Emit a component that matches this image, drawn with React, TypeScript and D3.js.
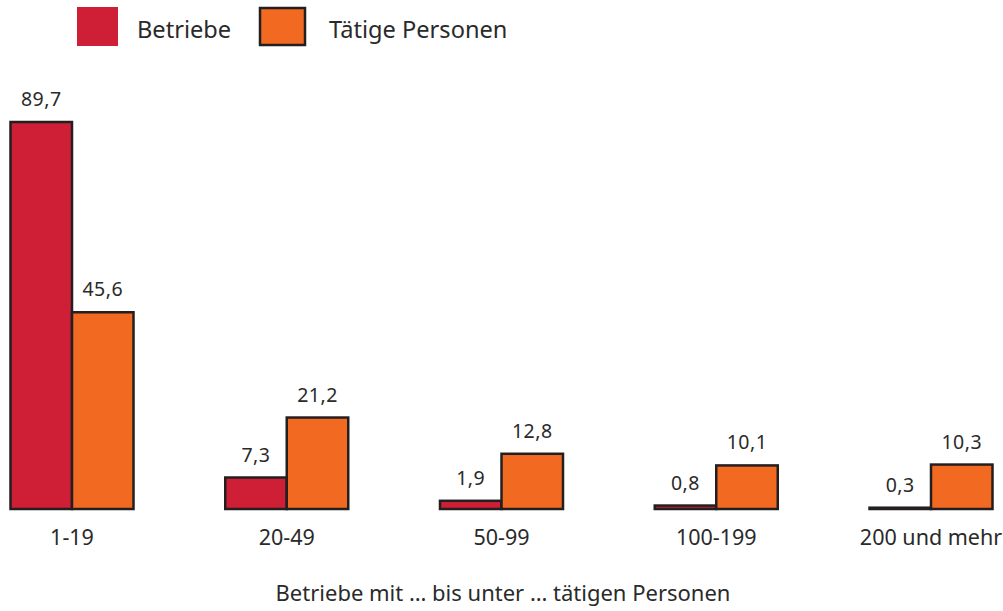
import React from "react";
import * as d3 from "d3";

const categories = ["1-19", "20-49", "50-99", "100-199", "200 und mehr"];
const seriesNames = ["Betriebe", "Tätige Personen"];
const betriebe = [89.7, 7.3, 1.9, 0.8, 0.3];
const taetige = [45.6, 21.2, 12.8, 10.1, 10.3];
const axisTitle = "Betriebe mit … bis unter … tätigen Personen";

const W = 1003;
const H = 611;
const FONT = "'Noto Sans', 'Open Sans', sans-serif";
const COLORS = ["#CF1F37", "#F26A22"];
const STROKE = "#231F20";

export default function App() {
  const step = 214.75;
  const firstCenter = 72;
  const x0 = d3
    .scaleBand<string>()
    .domain(categories)
    .range([firstCenter - step / 2, firstCenter - step / 2 + step * categories.length])
    .padding(0);
  const bw = x0.bandwidth();
  const barW = 61.5;
  const x1 = d3
    .scaleBand<string>()
    .domain(seriesNames)
    .range([bw / 2 - barW, bw / 2 + barW])
    .padding(0);
  const y = d3.scaleLinear().domain([0, 89.7]).range([509, 122]);
  const fmt = (v: number) => d3.format(".1f")(v).replace(".", ",");
  const series = [betriebe, taetige];

  return (
    <svg
      width={W}
      height={H}
      style={{ position: "absolute", left: 0, top: 0, background: "#fff" }}
      fontFamily={FONT}
    >
      {/* legend */}
      <rect x={77} y={7} width={41} height={39} fill={COLORS[0]} />
      <text x={137} y={38} fontSize={23.6} fill="#2a2a2a">
        {seriesNames[0]}
      </text>
      <rect x={260} y={8} width={45} height={37} fill={COLORS[1]} stroke={STROKE} strokeWidth={2.5} />
      <text x={329} y={38} fontSize={23.6} fill="#2a2a2a">
        {seriesNames[1]}
      </text>

      {categories.map((c, i) => (
        <g key={c}>
          {series.map((vals, s) => {
            const v = vals[i];
            const bx = (x0(c) as number) + (x1(seriesNames[s]) as number);
            const top = y(v);
            return (
              <g key={s}>
                <rect
                  x={bx}
                  y={top}
                  width={x1.bandwidth()}
                  height={y(0) - top}
                  fill={COLORS[s]}
                  stroke={STROKE}
                  strokeWidth={2.5}
                />
                <text
                  x={bx + x1.bandwidth() / 2}
                  y={top - 16}
                  textAnchor="middle"
                  fontSize={19.5}
                  letterSpacing={0.5}
                  fill="#2a2a2a"
                >
                  {fmt(v)}
                </text>
              </g>
            );
          })}
          <text
            x={(x0(c) as number) + bw / 2}
            y={545}
            textAnchor="middle"
            fontSize={21.5}
            fill="#2a2a2a"
          >
            {c}
          </text>
        </g>
      ))}

      <text x={503} y={601} textAnchor="middle" fontSize={22} fill="#2a2a2a">
        {axisTitle}
      </text>
    </svg>
  );
}
